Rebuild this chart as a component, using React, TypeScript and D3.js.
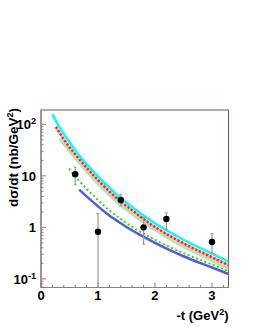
import { useCallback, useEffect, useRef } from "react";
import * as d3 from "d3";

// model curves: -t values and dsigma/dt (nb/GeV^2)
const cyanT = [0.2, 0.3, 0.4, 0.5, 0.6, 0.8, 1.0, 1.2, 1.4, 1.6, 1.8, 2.0, 2.5, 3.0, 3.3];
const cyanY = [158, 98, 65, 45, 31.6, 17, 9.8, 5.9, 3.7, 2.5, 1.7, 1.2, 0.575, 0.31, 0.214];
const redT = [0.26, 0.3, 0.4, 0.5, 0.6, 0.8, 1.0, 1.2, 1.4, 1.6, 1.8, 2.0, 2.5, 3.0, 3.3];
const redY = [89, 76, 51, 36, 26.3, 14.5, 8.3, 5.0, 3.16, 2.14, 1.45, 1.02, 0.49, 0.263, 0.182];
const paleT = [0.33, 0.4, 0.5, 0.6, 0.8, 1.0, 1.2, 1.4, 1.6, 1.8, 2.0, 2.5, 3.0, 3.3];
const paleY = [52.5, 41.7, 30.2, 22.4, 12.3, 7.1, 4.27, 2.69, 1.82, 1.26, 0.89, 0.427, 0.229, 0.155];
const greenT = [0.49, 0.6, 0.8, 1.0, 1.2, 1.4, 1.6, 1.8, 2.0, 2.5, 3.0, 3.3];
const greenY = [13.8, 9.8, 5.6, 3.4, 2.14, 1.45, 1.02, 0.76, 0.575, 0.316, 0.19, 0.141];
const blueT = [0.67, 0.8, 1.0, 1.2, 1.4, 1.6, 1.8, 2.0, 2.5, 3.0, 3.3];
const blueY = [5.4, 4.0, 2.57, 1.7, 1.2, 0.87, 0.66, 0.5, 0.275, 0.166, 0.123];

// measured points
const dataT = [0.6, 1.0, 1.4, 1.8, 2.2, 3.0];
const dataY = [10.8, 0.82, 3.4, 1.0, 1.45, 0.52];
const dataLo = [6.7, 0.01, 2.6, 0.47, 0.9, 0.31];
const dataHi = [14.7, 1.87, 4.4, 1.56, 1.92, 0.76];

const xTicks = [0, 1, 2, 3];
const yTicks = [0.1, 1, 10, 100];
const yTickLabels = ["10", "1", "10", "10"];
const yTickSup = ["-1", "", "", "2"];

export default function App() {
  const ref = useRef<SVGSVGElement | null>(null);
  const width = 253;
  const height = 327;
  const margin = { top: 110, right: 24.5, bottom: 39.5, left: 41 };

  const drawChart = useCallback(() => {
    document.body.style.margin = "0";
    const svg = d3.select(ref.current);
    svg.selectAll("*").remove();
    svg.attr("width", width).attr("height", height);

    const x = d3.scaleLinear().domain([0, 3.29]).range([margin.left, width - margin.right]);
    const y = d3.scaleLog().domain([0.068, 190]).range([height - margin.bottom, margin.top]);
    const font = "Liberation Sans, Arial, sans-serif";

    svg.append("rect").attr("width", width).attr("height", height).attr("fill", "white");

    svg.append("defs").append("clipPath").attr("id", "frameClip")
      .append("rect")
      .attr("x", x(0)).attr("y", y(190))
      .attr("width", x(3.29) - x(0)).attr("height", y(0.068) - y(190));

    // frame
    svg.append("rect")
      .attr("x", x(0)).attr("y", y(190))
      .attr("width", x(3.29) - x(0)).attr("height", y(0.068) - y(190))
      .attr("fill", "none").attr("stroke", "#8b4a4a").attr("stroke-width", 1);

    const axisColor = "#8a7f7f";
    const x0 = x(0);
    const yb = y(0.068);

    // x ticks
    const xMinor = d3.range(0, 3.3, 0.2);
    xMinor.forEach((t) => {
      const major = xTicks.some((m) => Math.abs(m - t) < 1e-6);
      svg.append("line")
        .attr("x1", x(t)).attr("x2", x(t))
        .attr("y1", yb).attr("y2", yb - (major ? 5 : 2.5))
        .attr("stroke", axisColor).attr("stroke-width", 1);
    });
    xTicks.forEach((t) => {
      svg.append("text")
        .attr("x", x(t)).attr("y", 300)
        .attr("text-anchor", "middle")
        .attr("font-family", font).attr("font-weight", "bold").attr("font-size", "13px")
        .text(String(t));
    });

    // y ticks (log)
    [0.01, 0.1, 1, 10, 100].forEach((dec) => {
      d3.range(1, 10).forEach((m) => {
        const v = dec * m;
        if (v < 0.068 || v > 190) return;
        svg.append("line")
          .attr("x1", x0).attr("x2", x0 + (m === 1 ? 5 : 2.5))
          .attr("y1", y(v)).attr("y2", y(v))
          .attr("stroke", axisColor).attr("stroke-width", 1);
      });
    });
    yTicks.forEach((v, i) => {
      const txt = svg.append("text")
        .attr("x", 36).attr("y", y(v) + 5)
        .attr("text-anchor", "end")
        .attr("font-family", font).attr("font-weight", "bold").attr("font-size", "13px");
      txt.append("tspan").text(yTickLabels[i]);
      if (yTickSup[i]) {
        txt.append("tspan").attr("dy", -5).attr("font-size", "9px").text(yTickSup[i]);
      }
    });

    // axis lines
    svg.append("line").attr("x1", x0).attr("x2", x0).attr("y1", yb).attr("y2", y(190))
      .attr("stroke", axisColor).attr("stroke-width", 1);
    svg.append("line").attr("x1", x0).attr("x2", x(3.29)).attr("y1", yb).attr("y2", yb)
      .attr("stroke", axisColor).attr("stroke-width", 1);

    // titles
    const xt = svg.append("text")
      .attr("x", x(3.29)).attr("y", 320)
      .attr("text-anchor", "end")
      .attr("font-family", font).attr("font-weight", "bold").attr("font-size", "13px");
    xt.append("tspan").text("-t (GeV");
    xt.append("tspan").attr("dy", -5).attr("font-size", "9px").text("2");
    xt.append("tspan").attr("dy", 5).text(")");

    const yt = svg.append("text")
      .attr("transform", `translate(18,${y(190) - 2}) rotate(-90)`)
      .attr("text-anchor", "end")
      .attr("font-family", font).attr("font-weight", "bold").attr("font-size", "13.5px");
    yt.append("tspan").text("d\u03c3/dt (nb/GeV");
    yt.append("tspan").attr("dy", -5).attr("font-size", "9px").text("2");
    yt.append("tspan").attr("dy", 5).text(")");

    // curves
    const line = d3.line<[number, number]>()
      .x((d) => x(d[0]))
      .y((d) => y(d[1]))
      .curve(d3.curveMonotoneX);
    const zip = (ts: number[], vs: number[]) => ts.map((t, i) => [t, vs[i]] as [number, number]);
    const g = svg.append("g").attr("clip-path", "url(#frameClip)");

    const curves = [
      { pts: zip(blueT, blueY), color: "#5a5ad8", w: 2.5, dash: null as string | null },
      { pts: zip(greenT, greenY), color: "#22dd22", w: 2, dash: "2,2.5" },
      { pts: zip(paleT, paleY), color: "#b4e2b4", w: 3, dash: null },
      { pts: zip(redT, redY), color: "#ffb0b0", w: 2.5, dash: null },
      { pts: zip(redT, redY), color: "#ff1a1a", w: 2.5, dash: "2,2" },
      { pts: zip(cyanT, cyanY), color: "#00ffff", w: 2.5, dash: null },
    ];
    curves.forEach((c) => {
      const p = g.append("path")
        .attr("d", line(c.pts))
        .attr("fill", "none")
        .attr("stroke", c.color)
        .attr("stroke-width", c.w);
      if (c.dash) p.attr("stroke-dasharray", c.dash);
    });

    // data points with error bars
    dataT.forEach((t, i) => {
      const lo = Math.max(dataLo[i], 0.068);
      g.append("line")
        .attr("x1", x(t)).attr("x2", x(t))
        .attr("y1", y(lo)).attr("y2", y(dataHi[i]))
        .attr("stroke", "#999").attr("stroke-width", 1.2);
      [dataHi[i], dataLo[i]].forEach((v) => {
        if (v < 0.068) return;
        g.append("line")
          .attr("x1", x(t) - 1.5).attr("x2", x(t) + 1.5)
          .attr("y1", y(v)).attr("y2", y(v))
          .attr("stroke", "#999").attr("stroke-width", 1);
      });
      g.append("circle")
        .attr("cx", x(t)).attr("cy", y(dataY[i]))
        .attr("r", 3.2).attr("fill", "black");
    });
  }, [margin.left, margin.right, margin.top, margin.bottom]);

  useEffect(() => {
    drawChart();
  }, [drawChart]);

  return <svg ref={ref} style={{ display: "block" }}></svg>;
}
